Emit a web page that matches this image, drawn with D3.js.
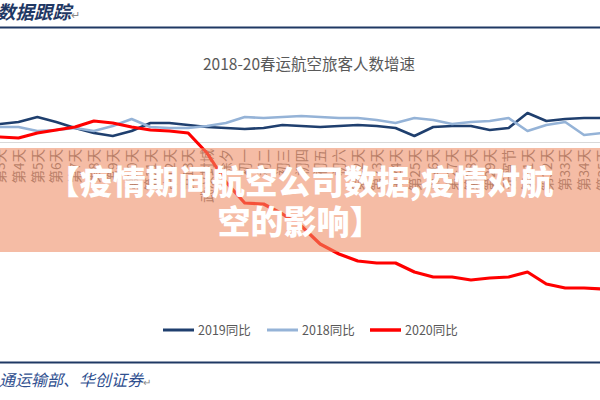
<!DOCTYPE html>
<html>
<head>
<meta charset="utf-8">
<script src="https://cdn.jsdelivr.net/npm/d3@7"></script>
<style>
  html, body { margin: 0; padding: 0; background: #fff; overflow: hidden; }
  svg { display: block; }
</style>
</head>
<body>
<svg id="chart" width="600" height="400"></svg>
<script>
// ---- data (visible window of the 40-day 春运 series) ----
const categories = ["第2天","第3天","第4天","第5天","第6天","第7天","第8天","第9天","第10天","第11天","第12天","第13天",
  "武汉封城","除夕","初一","初二","初三","初四","初五","初六",
  "第22天","第23天","第24天","第25天","第26天","第27天","第28天","第29天","元宵节",
  "第31天","第32天","第33天","第34天","第35天"];
const yoy2019 = [8, 9, 10, 12.5, 10, 7, 4.5, 3, 5.5, 9.5, 9.5, 8.5, 7.5, 7, 6.5, 7, 8.5, 8, 7.5, 8, 8.5, 8, 7, 3, 7.5, 8, 8, 6, 7, 14.5, 10.5, 11.5, 12, 12];
const yoy2018 = [7.5, 7.5, 7.5, 5.5, 6, 7, 5.5, 8, 11.5, 7.5, 7, 7, 8, 9.5, 12.5, 12, 12.5, 13, 12.5, 12, 12, 11, 9.5, 12, 11, 9, 10, 10.5, 12, 5.5, 8.5, 10, 3.5, 4.5];
const yoy2020 = [4, 2.5, 2, 4.5, 6, 7.5, 10.5, 9.5, 7.5, 6, 5.5, 4.5, -5.5, -20, -30.5, -31, -36, -42, -51, -56, -59.5, -60.5, -60.5, -65, -67.5, -67.5, -69, -68, -67.5, -65, -71, -73, -73, -73.5];
const seriesNames = ["2019同比", "2018同比", "2020同比"];
const chartTitle = "2018-20春运航空旅客人数增速";
const headerText = "数据跟踪";
const sourceText = "通运输部、华创证券";
const bannerLines = ["【疫情期间航空公司数据,疫情对航", "空的影响】"];

// ---- drawing ----
const svg = d3.select("#chart");
const cjk = "'Noto Sans CJK SC', 'Noto Sans', sans-serif";

const x = d3.scalePoint().domain(categories).range([-19.2, 602.9]).padding(0);
const y = d3.scaleLinear().domain([-80, 20]).range([302, 102]);

// header
svg.append("text")
  .attr("x", -3).attr("y", 19)
  .attr("font-family", cjk).attr("font-size", 18.5).attr("font-weight", 700)
  .attr("font-style", "italic").attr("fill", "#1F3864")
  .text(headerText)
  .append("tspan").attr("font-size", 11).attr("font-weight", 400).attr("fill", "#888").attr("font-style", "normal").text("↵");
svg.append("line").attr("x1", 0).attr("x2", 600).attr("y1", 27.5).attr("y2", 27.5)
  .attr("stroke", "#1F3864").attr("stroke-width", 2);

// chart title
svg.append("text")
  .attr("x", 309).attr("y", 70).attr("text-anchor", "middle")
  .attr("font-family", cjk).attr("font-size", 15.5).attr("fill", "#595959")
  .text(chartTitle);

// category axis at 0
const axisG = svg.append("g").attr("transform", `translate(0,${y(0)})`);
axisG.append("line").attr("x1", 0).attr("x2", 600).attr("y1", 0.5).attr("y2", 0.5)
  .attr("stroke", "#D9D9D9").attr("stroke-width", 1);
const axis = d3.axisBottom(x).tickSize(0).tickPadding(0);
const ax = axisG.append("g").call(axis);
ax.select(".domain").remove();
ax.selectAll(".tick text")
  .attr("font-family", cjk).attr("font-size", 13.5).attr("fill", "#6F6F6F")
  .attr("text-anchor", "end")
  .attr("transform", "translate(0,7) rotate(-90)")
  .attr("x", 0).attr("y", 0).attr("dy", "0.35em");

// lines
const line = d3.line().x((d, i) => x(categories[i])).y(d => y(d));
const styles = [
  { data: yoy2019, color: "#1F3F6E", width: 2.6 },
  { data: yoy2018, color: "#95B3D7", width: 2.6 },
  { data: yoy2020, color: "#FF0000", width: 3.2 }
];
styles.forEach(s => {
  svg.append("path").datum(s.data).attr("d", line)
    .attr("fill", "none").attr("stroke", s.color).attr("stroke-width", s.width)
    .attr("stroke-linejoin", "round").attr("stroke-linecap", "round");
});

// legend
const legendX = [163, 267, 370];
const legend = svg.append("g").attr("transform", "translate(0,330)");
seriesNames.forEach((n, i) => {
  legend.append("line").attr("x1", legendX[i]).attr("x2", legendX[i] + 31).attr("y1", 0).attr("y2", 0)
    .attr("stroke", styles[i].color).attr("stroke-width", i === 2 ? 3.5 : 3);
  legend.append("text").attr("x", legendX[i] + 35).attr("y", 4.5)
    .attr("font-family", cjk).attr("font-size", 12.5).attr("fill", "#595959").text(n);
});

// footer
svg.append("line").attr("x1", 0).attr("x2", 600).attr("y1", 362.5).attr("y2", 362.5)
  .attr("stroke", "#1F3864").attr("stroke-width", 2);
svg.append("text")
  .attr("x", -1).attr("y", 386)
  .attr("font-family", cjk).attr("font-size", 16).attr("font-style", "italic")
  .attr("fill", "#2F4F8F")
  .text(sourceText)
  .append("tspan").attr("font-size", 10).attr("fill", "#888").attr("font-style", "normal").text("↵");

// banner overlay
svg.append("rect").attr("x", 0).attr("y", 148).attr("width", 600).attr("height", 104)
  .attr("fill", "rgb(238,140,100)").attr("fill-opacity", 0.58);
bannerLines.forEach((t, i) => {
  svg.append("text")
    .attr("x", 300).attr("y", 194 + i * 40).attr("text-anchor", "middle")
    .attr("font-family", cjk).attr("font-size", 33).attr("font-weight", 900)
    .attr("fill", "#FFFFFF")
    .text(t);
});
</script>
</body>
</html>
